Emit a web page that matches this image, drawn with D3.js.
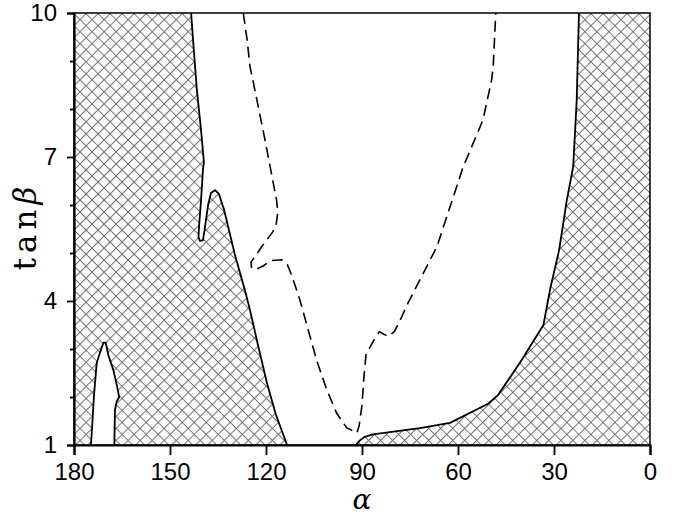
<!DOCTYPE html>
<html><head><meta charset="utf-8">
<script src="https://cdn.jsdelivr.net/npm/d3@7"></script>
<style>body{margin:0;background:#fff}svg{display:block}</style>
</head><body>
<svg id="chart" width="684" height="515"></svg>
<script>
// ---- data (alpha in degrees, tan beta) ----
const leftBoundary = [
  [143.4,10.0],[142.8,9.44],[141.6,8.40],[140.3,7.56],[139.4,6.90],[139.7,6.73],
  [140.3,6.10],[140.9,5.58],[141.1,5.33],[140.6,5.25],[139.7,5.27],[139.1,5.52],
  [138.1,6.00],[137.2,6.25],[135.9,6.31],[134.7,6.23],[133.1,5.90],[129.7,4.96],
  [126.6,4.23],[125.0,3.81],[122.5,3.08],[119.7,2.29],[116.9,1.63],[113.4,1.00]
];
const islandBoundary = [
  [174.7,1.00],[174.2,1.52],[173.75,2.04],[172.9,2.71],[171.9,2.92],[170.8,3.13],
  [170.1,3.13],[169.3,2.88],[167.7,2.56],[166.5,2.21],[165.9,2.00],[166.7,1.90],
  [167.2,1.73],[167.4,1.00]
];
const rightBoundary = [
  [91.9,1.00],[90.6,1.10],[89.1,1.17],[86.6,1.22],[71.9,1.35],[62.5,1.46],
  [50.6,1.86],[47.5,2.04],[40.1,2.77],[33.3,3.50],[31.2,4.25],[28.4,5.06],
  [26.0,6.10],[24.0,6.80],[22.9,8.19],[22.2,10.0]
];
const dashedContour = [
  [127.1,10.0],[125.9,9.44],[125.0,8.88],[124.1,8.60],[120.3,7.35],[116.7,6.10],
  [116.3,5.85],[116.9,5.56],[117.9,5.44],[120.9,5.17],[124.7,4.81],[124.5,4.69],
  [123.1,4.66],[120.9,4.73],[118.5,4.84],[115.1,4.86],[113.4,4.77],[112.0,4.54],
  [109.4,4.02],[104.2,2.77],[101.0,2.15],[97.9,1.66],[94.8,1.36],[91.6,1.25],
  [90.9,1.40],[90.0,1.83],[89.4,2.42],[88.75,2.88],[87.8,3.00],[85.9,3.23],
  [84.6,3.36],[81.8,3.26],[79.9,3.36],[78.1,3.60],[75.6,3.96],[66.6,5.13],
  [58.4,6.79],[52.2,7.77],[49.5,8.60],[49.0,8.88],[48.6,9.44],[48.2,10.0]
];
const xTicks = [180,150,120,90,60,30,0];
const yTicks = [1,2,3,4,5,6,7,8,9,10];
const yLabelled = [1,4,7,10];

// ---- drawing ----
const svg = d3.select("#chart");
const L = 74, R = 650, T = 13, B = 445;
const x = d3.scaleLinear().domain([180,0]).range([L,R]);
const y = d3.scaleLinear().domain([1,10]).range([B,T]);

const HS = 8.5;
const defs = svg.append("defs");
const pat = defs.append("pattern").attr("id","hatch")
  .attr("patternUnits","userSpaceOnUse").attr("width",HS).attr("height",HS)
  .attr("patternTransform","translate(" + L + "," + T + ") rotate(45)");
pat.append("rect").attr("width",HS).attr("height",HS).attr("fill","#fff");
pat.append("path").attr("d","M0,0.5H" + HS + "M0.5,0V" + HS)
  .attr("stroke","#707070").attr("stroke-width",1).attr("fill","none");
defs.append("clipPath").attr("id","plotclip").append("rect")
  .attr("x",L).attr("y",T).attr("width",R-L).attr("height",B-T);

const line = d3.line().x(d=>x(d[0])).y(d=>y(d[1]));
const g = svg.append("g").attr("clip-path","url(#plotclip)");

// hatched left region
g.append("path").attr("d", line([[180,1],[180,10]].concat(leftBoundary)) + "Z")
  .attr("fill","url(#hatch)");
// hatched right region
g.append("path").attr("d", line(rightBoundary.concat([[0,10],[0,1]])) + "Z")
  .attr("fill","url(#hatch)");
// island (allowed region) inside left
g.append("path").attr("d", line(islandBoundary) + "Z").attr("fill","#fff");

// contours
[leftBoundary, rightBoundary, islandBoundary].forEach(b => {
  g.append("path").attr("d", line(b)).attr("fill","none")
    .attr("stroke","#000").attr("stroke-width",1.8).attr("stroke-linejoin","round");
});
g.append("path").attr("d", line(dashedContour)).attr("fill","none")
  .attr("stroke","#000").attr("stroke-width",1.6).attr("stroke-dasharray","11,6");

// frame
svg.append("rect").attr("x",L).attr("y",T).attr("width",R-L).attr("height",B-T)
  .attr("fill","none").attr("stroke","#000").attr("stroke-width",1.5);

// axes
const xAxis = d3.axisBottom(x).tickValues(xTicks).tickSize(10).tickPadding(8).tickFormat(d3.format("d"));
const gx = svg.append("g").attr("transform","translate(0," + B + ")").call(xAxis);
const yAxis = d3.axisLeft(y).tickValues(yTicks).tickSize(7).tickPadding(10)
  .tickFormat(d => yLabelled.includes(d) ? d : "");
const gy = svg.append("g").attr("transform","translate(" + L + ",0)").call(yAxis);
gy.selectAll(".tick line").attr("x2", d => yLabelled.includes(d) ? -7 : -4);
[gx, gy].forEach(a => {
  a.select(".domain").attr("stroke-width",2.2);
  a.selectAll(".tick line").attr("stroke-width",1.8);
  a.selectAll(".tick text").attr("font-family","'Liberation Sans', Arial, sans-serif")
    .attr("font-size",24).attr("fill","#000");
});

// axis titles
svg.append("text").attr("x",362).attr("y",509).attr("text-anchor","middle")
  .attr("font-family","'DejaVu Serif', serif").attr("font-style","italic")
  .attr("font-size",28).text("α");
const yt = svg.append("text").attr("transform","translate(36,226) rotate(-90)")
  .attr("text-anchor","middle").attr("font-family","'DejaVu Serif', serif")
  .attr("font-size",31).attr("letter-spacing","5px");
yt.append("tspan").text("tan");
yt.append("tspan").attr("font-style","italic").text("β");
</script>
</body></html>
